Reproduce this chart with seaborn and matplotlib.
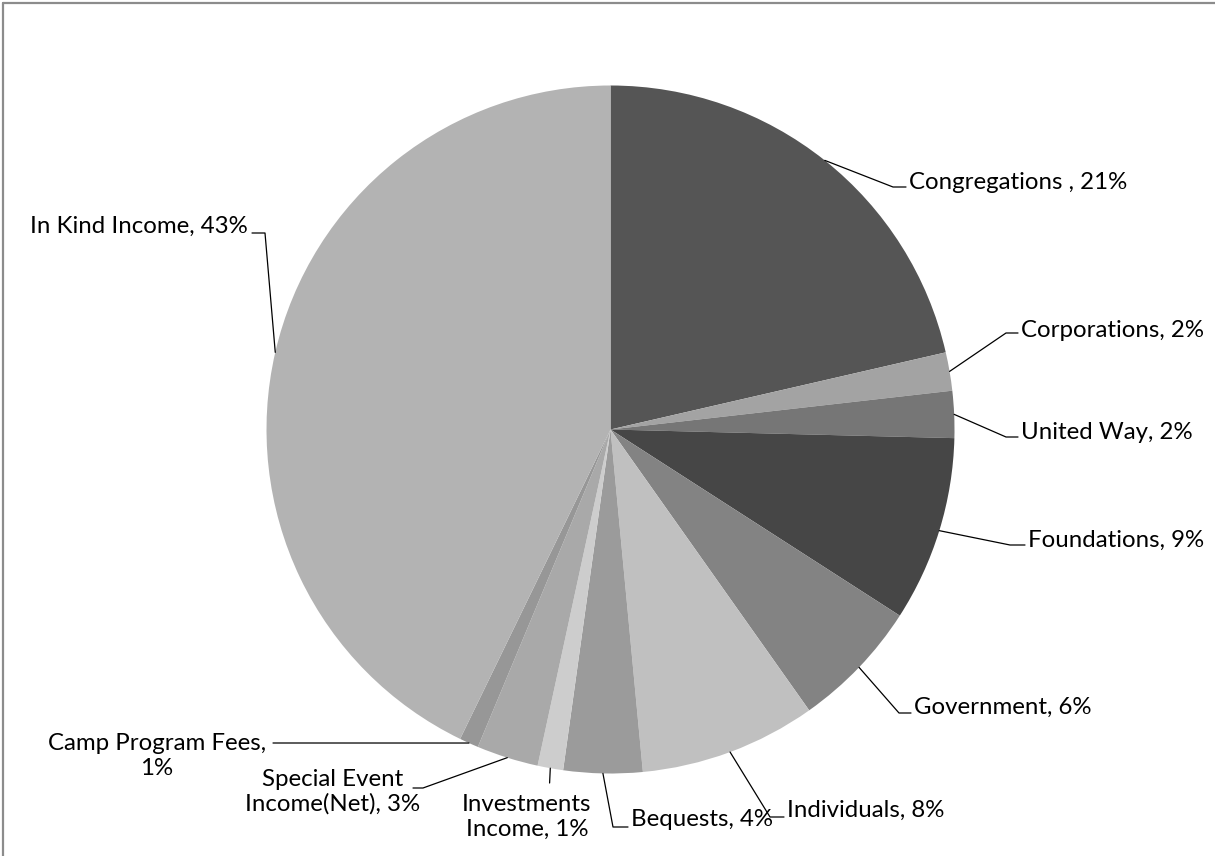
import numpy as np
import matplotlib
matplotlib.use("Agg")
import matplotlib.pyplot as plt
import seaborn as sns
from matplotlib.lines import Line2D

# data (shares of income)
categories = ["Congregations ", "Corporations", "United Way", "Foundations",
              "Government", "Individuals", "Bequests", "Investments\nIncome",
              "Special Event\nIncome(Net)", "Camp Program Fees,\n", "In Kind Income"]
shares = [21.4, 1.8, 2.2, 8.7, 6.1, 8.3, 3.7, 1.2, 2.9, 0.9, 42.8]
grays = ["#555555", "#a3a3a3", "#767676", "#464646", "#838383", "#c0c0c0",
         "#9b9b9b", "#cdcdcd", "#a9a9a9", "#979797", "#b3b3b3"]

W, H = 1215, 856
sns.set_theme(style="white")
plt.rcParams["font.family"] = ["Lato", "DejaVu Sans"]

fig = plt.figure(figsize=(W / 100, H / 100), dpi=100)
ax = fig.add_axes([0, 0, 1, 1])

cx, cy, r = 610.5, H - 429.5, 344
wedges, _ = ax.pie(shares, colors=grays, startangle=90, counterclock=False,
                   center=(cx, cy), radius=r, wedgeprops=dict(linewidth=0))
ax.set_xlim(0, W)
ax.set_ylim(0, H)
ax.set_aspect("equal")
ax.axis("off")

# label layout in pixel coords (y from top): elbow, tick end, text pos, align
layout = [
    ((893, 187), (906, 187), (909, 182), "left"),
    ((1006, 333), (1018, 333), (1021, 330), "left"),
    ((1006, 437), (1018, 437), (1021, 432), "left"),
    ((1010, 545), (1025, 545), (1028, 540), "left"),
    ((899, 713), (911, 713), (914, 707), "left"),
    ((770, 817), (784, 817), (787, 810), "left"),
    ((613, 827), (628, 827), (631, 820), "left"),
    ((549.6, 783), (549.6, 783), (527, 817), "center"),
    ((423, 788), (413, 788), (333, 792), "center"),
    ((283, 743), (273, 743), (157, 756), "center"),
    ((265, 233), (252, 233), (248, 226), "right"),
]

for w, name, val, (elb, end, txt, ha) in zip(wedges, categories, shares, layout):
    mid = np.deg2rad((w.theta1 + w.theta2) / 2)
    ex, ey = cx + r * np.cos(mid), cy + r * np.sin(mid)
    xs = [ex, elb[0], end[0]]
    ys = [ey, H - elb[1], H - end[1]]
    ax.add_line(Line2D(xs, ys, color="black", lw=0.9))
    pct = "%d%%" % round(val)
    if name.endswith("\n"):
        label = name + pct
    else:
        label = name + ", " + pct
    ax.text(txt[0], H - txt[1], label, ha=ha, va="center", multialignment="center",
            fontsize=17.3, color="black", linespacing=1.2)

# chart border (top and left visible)
fig.add_artist(Line2D([3 / W, 1], [1 - 3 / H, 1 - 3 / H], transform=fig.transFigure,
                      color="#8c8c8c", lw=1.6))
fig.add_artist(Line2D([3 / W, 3 / W], [0, 1 - 3 / H], transform=fig.transFigure,
                      color="#8c8c8c", lw=1.6))

fig.savefig("out.png", dpi=100)
